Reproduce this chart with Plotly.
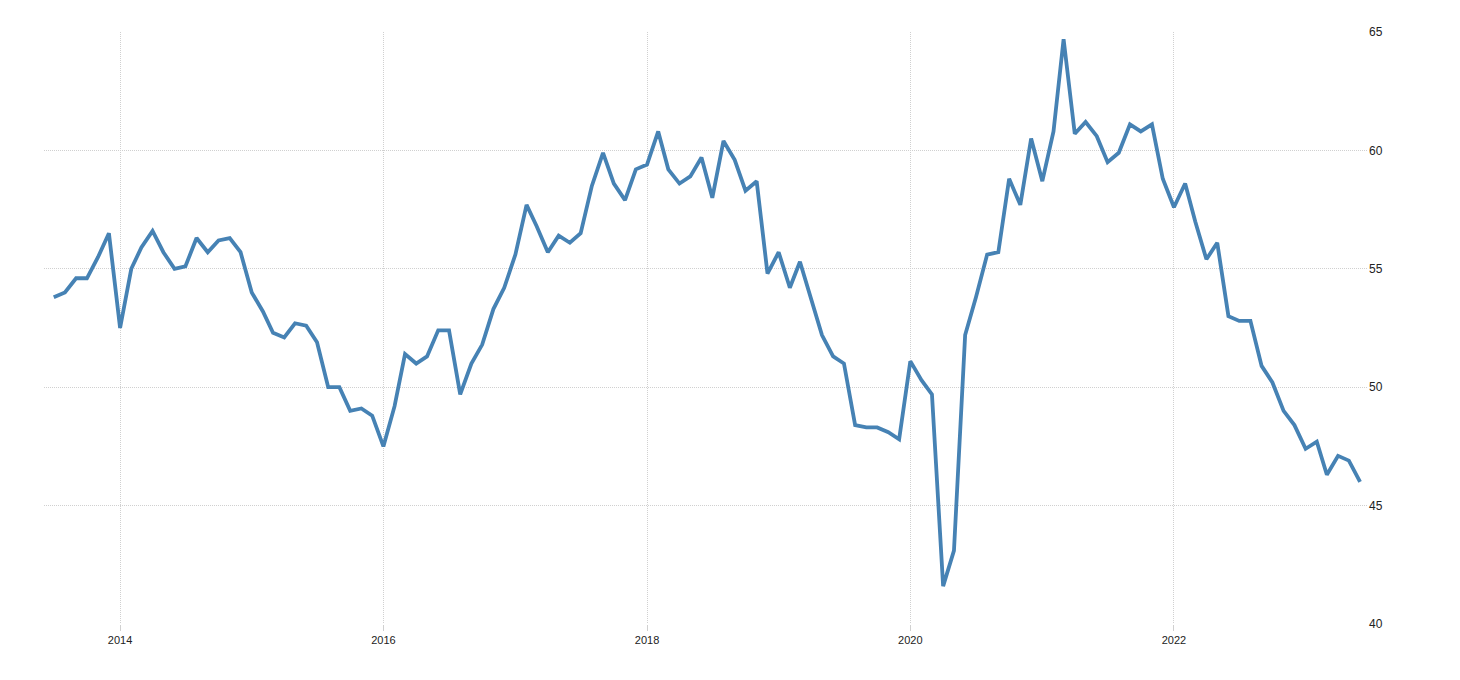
import pandas as pd
import plotly.graph_objects as go

# Monthly index values, Jul 2013 .. Jun 2023
values_2013 = [53.8, 54.0, 54.6, 54.6, 55.5, 56.5]
values_2014 = [52.5, 55.0, 55.9, 56.6, 55.7, 55.0, 55.1, 56.3, 55.7, 56.2, 56.3, 55.7]
values_2015 = [54.0, 53.2, 52.3, 52.1, 52.7, 52.6, 51.9, 50.0, 50.0, 49.0, 49.1, 48.8]
values_2016 = [47.5, 49.2, 51.4, 51.0, 51.3, 52.4, 52.4, 49.7, 51.0, 51.8, 53.3, 54.2]
values_2017 = [55.6, 57.7, 56.8, 55.7, 56.4, 56.1, 56.5, 58.5, 59.9, 58.6, 57.9, 59.2]
values_2018 = [59.4, 60.8, 59.2, 58.6, 58.9, 59.7, 58.0, 60.4, 59.6, 58.3, 58.7, 54.8]
values_2019 = [55.7, 54.2, 55.3, 53.7, 52.2, 51.3, 51.0, 48.4, 48.3, 48.3, 48.1, 47.8]
values_2020 = [51.1, 50.3, 49.7, 41.6, 43.1, 52.2, 53.8, 55.6, 55.7, 58.8, 57.7, 60.5]
values_2021 = [58.7, 60.8, 64.7, 60.7, 61.2, 60.6, 59.5, 59.9, 61.1, 60.8, 61.1, 58.8]
values_2022 = [57.6, 58.6, 57.0, 55.4, 56.1, 53.0, 52.8, 52.8, 50.9, 50.2, 49.0, 48.4]
values_2023 = [47.4, 47.7, 46.3, 47.1, 46.9, 46.0]

values = (values_2013 + values_2014 + values_2015 + values_2016 + values_2017 +
          values_2018 + values_2019 + values_2020 + values_2021 + values_2022 + values_2023)
dates = pd.date_range("2013-07-01", periods=len(values), freq="MS")

y_ticks = [40, 45, 50, 55, 60, 65]
x_ticks = ["2014-01-01", "2016-01-01", "2018-01-01", "2020-01-01", "2022-01-01"]
x_labels = ["2014", "2016", "2018", "2020", "2022"]

fig = go.Figure()
fig.add_trace(go.Scatter(
    x=dates, y=values, mode="lines",
    line=dict(color="#4682B4", width=3.8),
    hoverinfo="x+y", showlegend=False,
))

fig.update_layout(
    width=1460, height=680,
    margin=dict(l=36, r=100, t=24, b=64),
    paper_bgcolor="white", plot_bgcolor="white",
    font=dict(family="Liberation Sans, Arial, sans-serif", size=12, color="#222"),
    xaxis=dict(
        type="date",
        range=["2013-06-04", "2023-06-23"],
        tickvals=x_ticks, ticktext=x_labels,
        showgrid=True, gridcolor="#d0d0d0", griddash="1px,1px", gridwidth=1,
        ticks="outside", ticklen=6, tickcolor="#d0d0d0", tickwidth=1,
        showline=False, zeroline=False,
        tickfont=dict(size=11, color="#222"),
    ),
    yaxis=dict(
        side="right",
        range=[40, 65],
        tickvals=y_ticks,
        showgrid=True, gridcolor="#d0d0d0", griddash="1px,1px", gridwidth=1,
        ticks="", showline=False, zeroline=False,
        tickfont=dict(size=12, color="#222"),
    ),
)

fig.write_html("out.html", config={"displayModeBar": False})
